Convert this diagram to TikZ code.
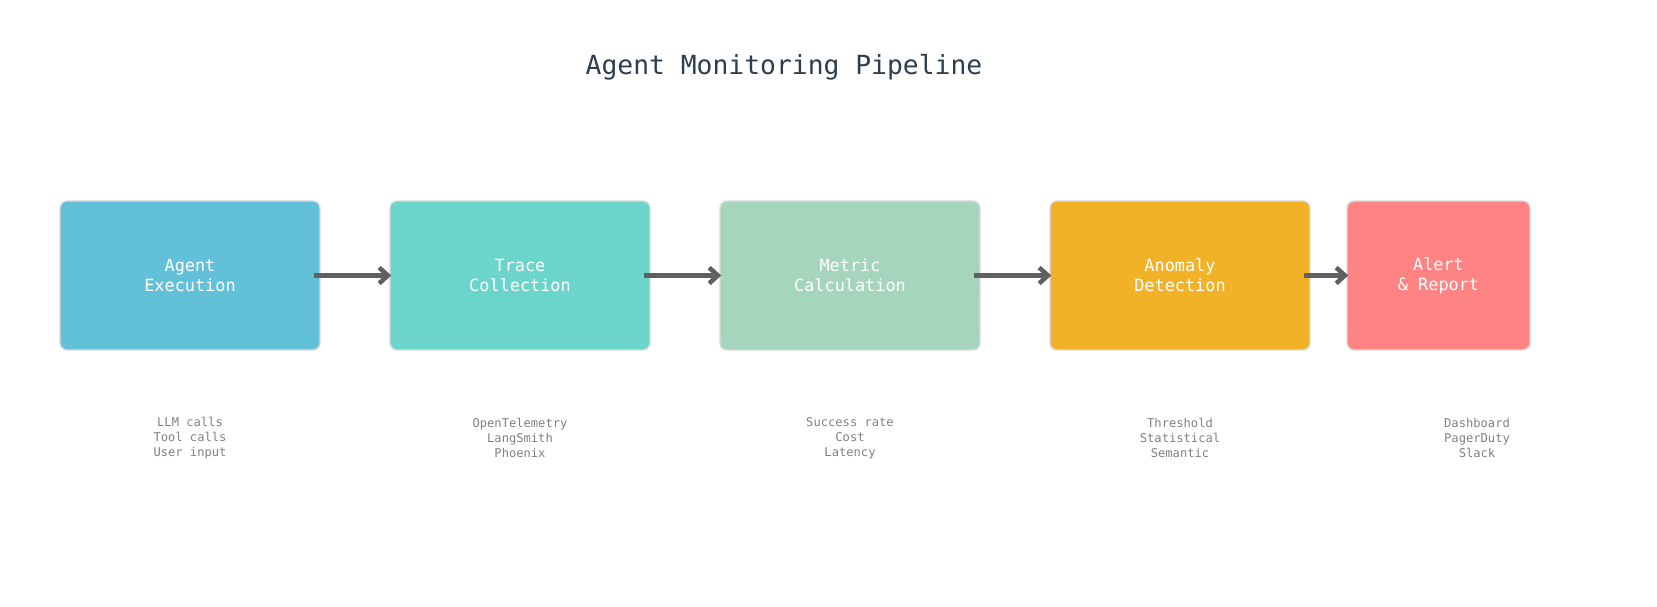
\documentclass[tikz,border=0pt]{standalone}
\usepackage{fontspec}
\setmainfont{DejaVu Sans Mono}
\usetikzlibrary{positioning,arrows.meta}
\definecolor{cAgent}{HTML}{62C1D8}
\definecolor{cTrace}{HTML}{6BD5CC}
\definecolor{cMetric}{HTML}{A6D5BE}
\definecolor{cAnomaly}{HTML}{F1B228}
\definecolor{cAlert}{HTML}{FF8383}
\definecolor{cTitle}{HTML}{2C3E50}
\definecolor{cArrow}{HTML}{606060}
\definecolor{cSub}{HTML}{808080}
\tikzset{
  stage/.style={draw=white!85!black, line width=0.8pt, rounded corners=4pt,
    minimum height=2.98cm, text=white, align=center,
    font=\fontsize{9.6}{11.4}\selectfont},
  flow/.style={draw=cArrow, line width=2.6pt, -{Straight Barb[length=5pt,width=9pt]}},
  sub/.style={text=cSub, align=center, font=\fontsize{6.9}{8.6}\selectfont}
}
\begin{document}
\begin{tikzpicture}[x=0.02cm,y=-0.02cm]
    \useasboundingbox (0,0) rectangle (1657,607);

    % Title
    \node[text=cTitle, font=\fontsize{15}{17}\selectfont] (title) at (784,67) {Agent Monitoring Pipeline};

    % Stages
    \node[stage, fill=cAgent, minimum width=5.2cm] (agent) at (190,275.5) {Agent\\Execution};
    \node[stage, fill=cTrace, minimum width=5.2cm] (trace) at (520,275.5) {Trace\\Collection};
    \node[stage, fill=cMetric, minimum width=5.2cm] (metric) at (850,275.5) {Metric\\Calculation};
    \node[stage, fill=cAnomaly, minimum width=5.2cm] (anomaly) at (1180,275.5) {Anomaly\\Detection};
    \node[stage, fill=cAlert, minimum width=3.66cm] (alert) at (1438.5,275.5) {Alert\\\& Report};

    % Arrows
    \draw[flow] ([xshift=-0.14cm]agent.east) -- ([xshift=0.04cm]trace.west);
    \draw[flow] ([xshift=-0.14cm]trace.east) -- ([xshift=0.04cm]metric.west);
    \draw[flow] ([xshift=-0.14cm]metric.east) -- ([xshift=0.04cm]anomaly.west);
    \draw[flow] ([xshift=-0.14cm]anomaly.east) -- ([xshift=0.04cm]alert.west);

    % Details
    \node[sub] (agentsub) at (190,438) {LLM calls\\Tool calls\\User input};
    \node[sub] (tracesub) at (520,438) {OpenTelemetry\\LangSmith\\Phoenix};
    \node[sub] (metricsub) at (850,438) {Success rate\\Cost\\Latency};
    \node[sub] (anomalysub) at (1180,438) {Threshold\\Statistical\\Semantic};
    \node[sub] (alertsub) at (1477,438) {Dashboard\\PagerDuty\\Slack};
\end{tikzpicture}
\end{document}
